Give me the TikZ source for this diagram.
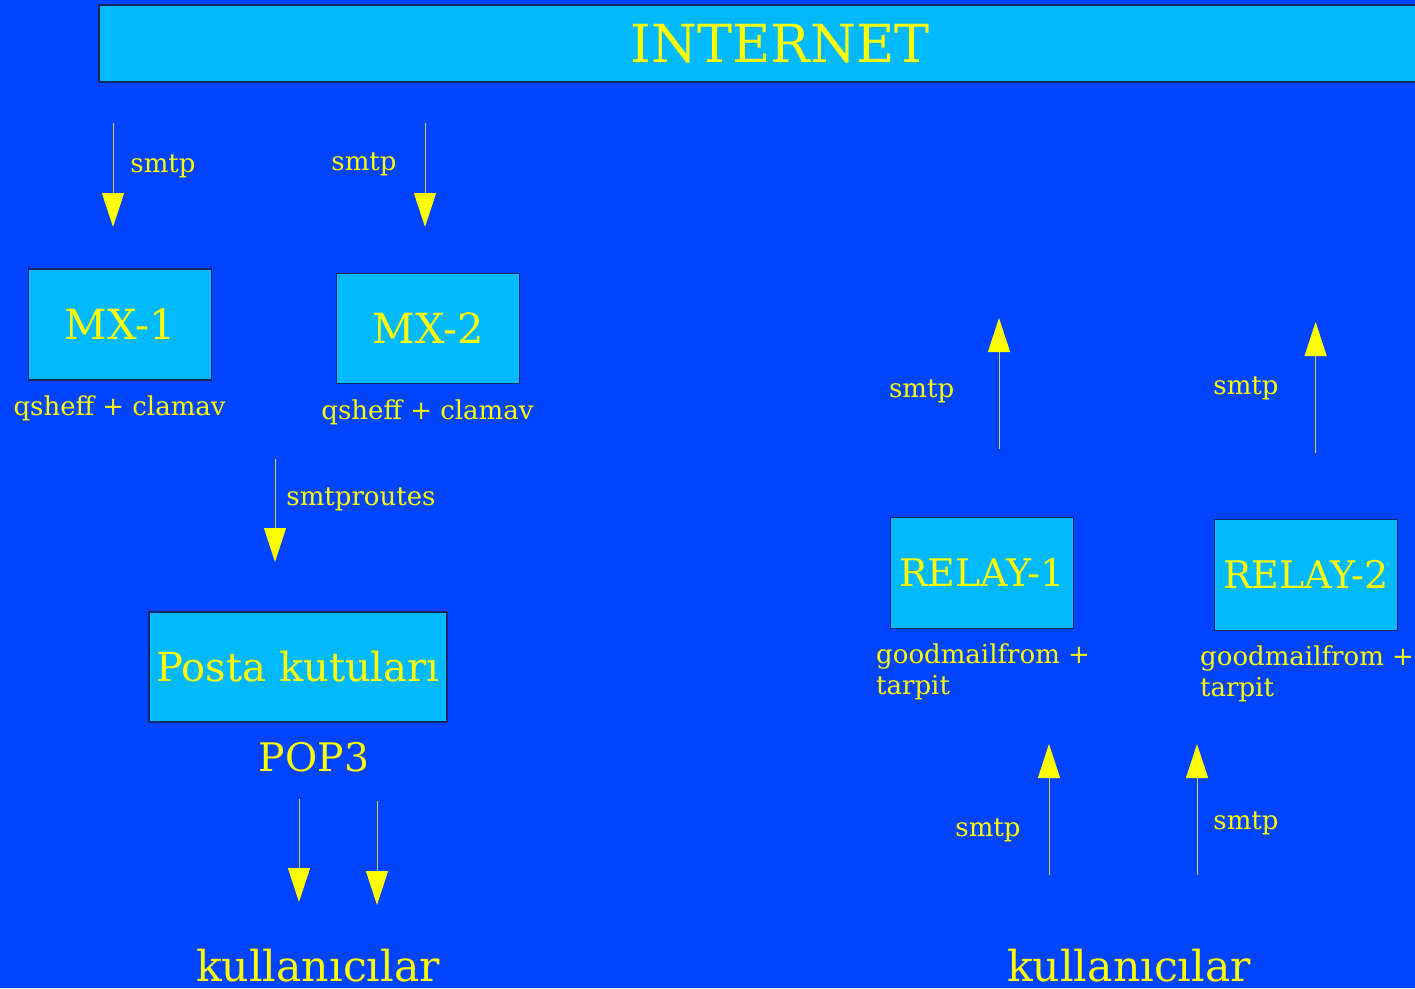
\documentclass[tikz,border=0pt]{standalone}
\usepackage{fontspec}
\setmainfont{DejaVu Serif}
\usetikzlibrary{arrows.meta}
\definecolor{bgblue}{RGB}{0,68,255}
\definecolor{boxblue}{RGB}{0,185,255}
\definecolor{boxline}{RGB}{10,40,100}
\definecolor{lbl}{RGB}{255,255,0}
\definecolor{wirecol}{RGB}{210,210,80}
\begin{document}
\begin{tikzpicture}[x=1pt,y=-1pt,line join=bevel,
  >={Triangle[length=34pt,width=22pt,color=lbl]},
  box/.style={draw=boxline,line width=1.2pt,fill=boxblue,text=lbl,inner sep=0pt,font=\fontsize{40}{48}\selectfont},
  small/.style={text=lbl,inner sep=0pt,anchor=base,font=\fontsize{26}{31}\selectfont},
  big/.style={text=lbl,inner sep=0pt,anchor=base,font=\fontsize{40}{48}\selectfont},
  wire/.style={draw=wirecol,line width=1pt,->}]
%%
  \useasboundingbox (0,0) rectangle (1415,988);
  \fill [bgblue] (0,0) rectangle (1415,988);

  \node (internet) at (780,43.5) [box,minimum width=1362pt,minimum height=77pt,font=\fontsize{52.5}{60}\selectfont] {INTERNET};
  \node (mx_1) at (120,324.5) [box,minimum width=183pt,minimum height=111pt,font=\fontsize{41.5}{48}\selectfont] {MX-1};
  \node (mx_2) at (428,328.3) [box,minimum width=183pt,minimum height=110pt,font=\fontsize{41.5}{48}\selectfont] {MX-2};
  \node (posta) at (298,667) [box,minimum width=298pt,minimum height=110pt] {Posta kutuları};
  \node (relay_1) at (982,572.7) [box,minimum width=183pt,minimum height=111pt,font=\fontsize{38}{48}\selectfont] {RELAY-1};
  \node (relay_2) at (1306,574.7) [box,minimum width=183pt,minimum height=111pt,font=\fontsize{38}{48}\selectfont] {RELAY-2};

  \node (mx_1_note) at (119.6,415) [small] {qsheff + clamav};
  \node (mx_2_note) at (427.5,419) [small] {qsheff + clamav};
  \node (relay_1_note) at (876,643.5) [small,anchor=north west,align=left] {goodmailfrom +\\tarpit};
  \node (relay_2_note) at (1200,645.7) [small,anchor=north west,align=left] {goodmailfrom +\\tarpit};
  \node (pop3) at (314,771) [big,font=\fontsize{39.3}{48}\selectfont] {POP3};
  \node (users_left) at (318,981) [big,font=\fontsize{42.6}{48}\selectfont] {kullanıcılar};
  \node (users_right) at (1129,981) [big,font=\fontsize{42.6}{48}\selectfont] {kullanıcılar};

  %% smtp in
  \coordinate (in_1_top) at (113,123);  \coordinate (in_1_end) at (113,227);
  \coordinate (in_2_top) at (425,123);  \coordinate (in_2_end) at (425,227);
  \draw [wire] (in_1_top) -- (in_1_end);
  \draw [wire] (in_2_top) -- (in_2_end);
  \node (in_1_lbl) at (163,172) [small] {smtp};
  \node (in_2_lbl) at (364,170) [small] {smtp};

  %% smtproutes
  \coordinate (route_top) at (275,459);  \coordinate (route_end) at (275,562);
  \draw [wire] (route_top) -- (route_end);
  \node (route_lbl) at (361,505) [small] {smtproutes};

  %% pop3
  \coordinate (pop_1_top) at (299,799);  \coordinate (pop_1_end) at (299,902);
  \coordinate (pop_2_top) at (377,801);  \coordinate (pop_2_end) at (377,905);
  \draw [wire] (pop_1_top) -- (pop_1_end);
  \draw [wire] (pop_2_top) -- (pop_2_end);

  %% smtp out
  \coordinate (out_1_bot) at (999,449);  \coordinate (out_1_end) at (999,318);
  \coordinate (out_2_bot) at (1315.6,453);  \coordinate (out_2_end) at (1315.6,322);
  \draw [wire] (out_1_bot) -- (out_1_end);
  \draw [wire] (out_2_bot) -- (out_2_end);
  \node (out_1_lbl) at (921.6,397.7) [small] {smtp};
  \node (out_2_lbl) at (1246,394) [small] {smtp};

  %% smtp from users
  \coordinate (sub_1_bot) at (1049,875);  \coordinate (sub_1_end) at (1049,744);
  \coordinate (sub_2_bot) at (1197,875);  \coordinate (sub_2_end) at (1197,744);
  \draw [wire] (sub_1_bot) -- (sub_1_end);
  \draw [wire] (sub_2_bot) -- (sub_2_end);
  \node (sub_1_lbl) at (988,836.7) [small] {smtp};
  \node (sub_2_lbl) at (1246,829) [small] {smtp};

\end{tikzpicture}
\end{document}
